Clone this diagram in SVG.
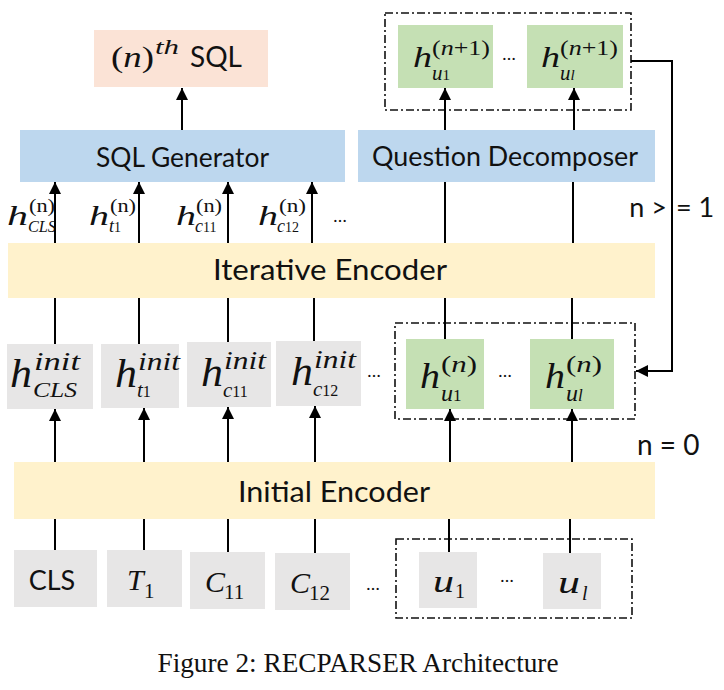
<svg xmlns="http://www.w3.org/2000/svg" width="724" height="690" viewBox="0 0 724 690">
<defs>
<marker id="ah" markerUnits="userSpaceOnUse" markerWidth="12" markerHeight="12" refX="12" refY="6" orient="auto"><path d="M0,0 L12,6 L0,12 z" fill="#000"/></marker>
<style>
.sans{font-family:Lato,"Liberation Sans",sans-serif;fill:#111}
.m{font-family:"Liberation Serif",serif;font-style:italic;fill:#111}
.r{font-family:"Liberation Serif",serif;font-style:normal;fill:#111}
.peach{fill:#fbe3d6}.blue{fill:#bdd7ee}.yel{fill:#fff2cc}.gray{fill:#e7e6e6}.green{fill:#c5e0b4}
.dash{fill:none;stroke:#111;stroke-width:1.6;stroke-dasharray:8 3 2 3}
.ln{stroke:#000;stroke-width:2;fill:none}
.ar{stroke:#000;stroke-width:2;fill:none;marker-end:url(#ah)}
</style>
</defs>
<rect width="724" height="690" fill="#fff"/>

<g id="sql-out"><rect class="peach" x="94" y="30" width="174" height="57"/>
<text class="m" x="111" y="67" font-size="30" textLength="43" lengthAdjust="spacingAndGlyphs"><tspan class="r">(</tspan>n<tspan class="r">)</tspan></text><text class="m" x="155" y="54" font-size="20" textLength="24" lengthAdjust="spacingAndGlyphs">th</text><text class="sans" x="190" y="67" font-size="28">SQL</text></g>

<g id="sql-gen"><rect class="blue" x="20" y="130" width="325" height="52"/><text class="sans" x="96" y="167" font-size="26" textLength="173" lengthAdjust="spacingAndGlyphs">SQL Generator</text></g>
<g id="q-dec"><rect class="blue" x="358" y="130" width="297" height="52"/><text class="sans" x="372" y="166" font-size="26" textLength="266" lengthAdjust="spacingAndGlyphs">Question Decomposer</text></g>

<g id="u-next"><rect class="dash" x="385" y="13" width="246" height="97"/>
<rect class="green" x="398" y="25" width="95" height="63"/><rect class="green" x="527" y="25" width="96" height="63"/>
<text class="m" x="413" y="67" font-size="30" textLength="19" lengthAdjust="spacingAndGlyphs">h</text>
<text class="r" x="432" y="55" font-size="20" textLength="58" lengthAdjust="spacingAndGlyphs">(<tspan class="m">n</tspan>+1)</text>
<text class="m" x="432" y="80" font-size="21">u<tspan class="r" font-size="15">1</tspan></text>
<text class="sans" x="509" y="60" font-size="18" text-anchor="middle">…</text>
<text class="m" x="541" y="67" font-size="30" textLength="19" lengthAdjust="spacingAndGlyphs">h</text>
<text class="r" x="560" y="55" font-size="20" textLength="58" lengthAdjust="spacingAndGlyphs">(<tspan class="m">n</tspan>+1)</text>
<text class="m" x="560" y="80" font-size="21">u<tspan font-size="15">l</tspan></text></g>

<g id="hn-labels">
<text class="m" x="7" y="225" font-size="28" textLength="21" lengthAdjust="spacingAndGlyphs">h</text><text class="r" x="29" y="212" font-size="19" textLength="26" lengthAdjust="spacingAndGlyphs">(n)</text><text class="m" x="28" y="232" font-size="17" textLength="28" lengthAdjust="spacingAndGlyphs">CLS</text>
<text class="m" x="89" y="225" font-size="28" textLength="20" lengthAdjust="spacingAndGlyphs">h</text><text class="r" x="110" y="212" font-size="19" textLength="26" lengthAdjust="spacingAndGlyphs">(n)</text><text class="m" x="109" y="232" font-size="18">t<tspan class="r" font-size="14">1</tspan></text>
<text class="m" x="176" y="225" font-size="28" textLength="20" lengthAdjust="spacingAndGlyphs">h</text><text class="r" x="196" y="212" font-size="19" textLength="26" lengthAdjust="spacingAndGlyphs">(n)</text><text class="m" x="195" y="232" font-size="18">c<tspan class="r" font-size="14">11</tspan></text>
<text class="m" x="258" y="225" font-size="28" textLength="20" lengthAdjust="spacingAndGlyphs">h</text><text class="r" x="279" y="212" font-size="19" textLength="27" lengthAdjust="spacingAndGlyphs">(n)</text><text class="m" x="277" y="232" font-size="18">c<tspan class="r" font-size="14">12</tspan></text>
<text class="sans" x="340" y="222" font-size="18" text-anchor="middle">…</text></g>

<g id="iter-enc"><rect class="yel" x="8" y="243" width="647" height="55"/><text class="sans" x="213" y="280" font-size="28" textLength="234" lengthAdjust="spacingAndGlyphs">Iterative Encoder</text></g>

<g id="init-h">
<rect class="gray" x="7" y="344" width="86" height="65"/><rect class="gray" x="101" y="344" width="78" height="64"/><rect class="gray" x="187" y="342" width="84" height="65"/><rect class="gray" x="276" y="341" width="85" height="65"/>
<text class="m" x="10" y="387" font-size="40" textLength="22" lengthAdjust="spacingAndGlyphs">h</text><text class="m" x="34" y="370" font-size="26" textLength="46" lengthAdjust="spacingAndGlyphs">init</text><text class="m" x="33" y="397" font-size="21" textLength="44" lengthAdjust="spacingAndGlyphs">CLS</text>
<text class="m" x="115" y="387" font-size="40" textLength="22" lengthAdjust="spacingAndGlyphs">h</text><text class="m" x="138" y="370" font-size="26" textLength="42" lengthAdjust="spacingAndGlyphs">init</text><text class="m" x="137" y="397" font-size="21">t<tspan class="r" font-size="16">1</tspan></text>
<text class="m" x="201" y="386" font-size="40" textLength="22" lengthAdjust="spacingAndGlyphs">h</text><text class="m" x="224" y="369" font-size="26" textLength="42" lengthAdjust="spacingAndGlyphs">init</text><text class="m" x="223" y="397" font-size="21">c<tspan class="r" font-size="16">11</tspan></text>
<text class="m" x="291" y="385" font-size="40" textLength="22" lengthAdjust="spacingAndGlyphs">h</text><text class="m" x="314" y="368" font-size="26" textLength="42" lengthAdjust="spacingAndGlyphs">init</text><text class="m" x="313" y="396" font-size="21">c<tspan class="r" font-size="16">12</tspan></text>
<text class="sans" x="374" y="377" font-size="18" text-anchor="middle">…</text></g>

<g id="u-cur"><rect class="dash" x="395" y="323" width="240" height="96"/>
<rect class="green" x="406" y="339" width="78" height="70"/><rect class="green" x="530" y="339" width="84" height="70"/>
<text class="m" x="420" y="388" font-size="36" textLength="20" lengthAdjust="spacingAndGlyphs">h</text><text class="r" x="441" y="372" font-size="24" textLength="36" lengthAdjust="spacingAndGlyphs">(<tspan class="m">n</tspan>)</text><text class="m" x="441" y="401" font-size="24">u<tspan class="r" font-size="17">1</tspan></text>
<text class="sans" x="505" y="377" font-size="18" text-anchor="middle">…</text>
<text class="m" x="545" y="388" font-size="36" textLength="20" lengthAdjust="spacingAndGlyphs">h</text><text class="r" x="566" y="372" font-size="24" textLength="36" lengthAdjust="spacingAndGlyphs">(<tspan class="m">n</tspan>)</text><text class="m" x="566" y="401" font-size="24">u<tspan font-size="17">l</tspan></text></g>

<g id="conds"><text class="sans" x="667" y="217" font-size="27" text-anchor="end">n &gt;</text><text class="sans" x="676" y="217" font-size="27">= 1</text><text class="sans" x="637" y="455" font-size="28">n = 0</text></g>

<g id="init-enc"><rect class="yel" x="14" y="462" width="641" height="57"/><text class="sans" x="238" y="502" font-size="28" textLength="192" lengthAdjust="spacingAndGlyphs">Initial Encoder</text></g>

<g id="inputs">
<rect class="gray" x="14" y="550" width="83" height="57"/><rect class="gray" x="107" y="550" width="75" height="57"/><rect class="gray" x="190" y="552" width="75" height="57"/><rect class="gray" x="275" y="553" width="75" height="57"/>
<text class="sans" x="52" y="590" font-size="27" text-anchor="middle">CLS</text>
<text class="m" x="127" y="590" font-size="30">T</text><text class="r" x="144" y="598" font-size="21">1</text>
<text class="m" x="205" y="592" font-size="30">C</text><text class="r" x="224" y="599" font-size="21">11</text>
<text class="m" x="290" y="593" font-size="30">C</text><text class="r" x="309" y="600" font-size="21">12</text>
<text class="sans" x="373" y="590" font-size="18" text-anchor="middle">…</text>
<rect class="dash" x="396" y="539" width="236" height="79"/>
<rect class="gray" x="419" y="552" width="58" height="56"/><rect class="gray" x="543" y="553" width="58" height="56"/>
<text class="m" x="433" y="592" font-size="32" textLength="21" lengthAdjust="spacingAndGlyphs">u</text><text class="r" x="455" y="598" font-size="20">1</text>
<text class="sans" x="507" y="582" font-size="18" text-anchor="middle">…</text>
<text class="m" x="558" y="593" font-size="32" textLength="22" lengthAdjust="spacingAndGlyphs">u</text><text class="m" x="582" y="600" font-size="20">l</text></g>

<g id="connectors">
<line class="ar" x1="182" y1="130" x2="182" y2="88"/>
<line class="ar" x1="55" y1="243" x2="55" y2="182"/><line class="ar" x1="139" y1="243" x2="139" y2="182"/><line class="ar" x1="228" y1="243" x2="228" y2="182"/><line class="ar" x1="312" y1="243" x2="312" y2="182"/>
<line class="ar" x1="445" y1="130" x2="445" y2="88"/><line class="ar" x1="574" y1="130" x2="574" y2="88"/>
<line class="ln" x1="445" y1="243" x2="445" y2="182"/><line class="ln" x1="573" y1="243" x2="573" y2="182"/>
<line class="ln" x1="55" y1="344" x2="55" y2="298"/><line class="ln" x1="139" y1="344" x2="139" y2="298"/><line class="ln" x1="228" y1="342" x2="228" y2="298"/><line class="ln" x1="314" y1="341" x2="314" y2="298"/>
<line class="ln" x1="445" y1="339" x2="445" y2="298"/><line class="ln" x1="572" y1="339" x2="572" y2="298"/>
<line class="ar" x1="55" y1="462" x2="55" y2="409"/><line class="ar" x1="144" y1="462" x2="144" y2="408"/><line class="ar" x1="228" y1="462" x2="228" y2="407"/><line class="ar" x1="315" y1="462" x2="315" y2="406"/>
<line class="ar" x1="450" y1="462" x2="450" y2="409"/><line class="ar" x1="572" y1="462" x2="572" y2="409"/>
<line class="ln" x1="55" y1="519" x2="55" y2="550"/><line class="ln" x1="144" y1="519" x2="144" y2="550"/><line class="ln" x1="228" y1="519" x2="228" y2="552"/><line class="ln" x1="315" y1="519" x2="315" y2="553"/>
<line class="ln" x1="449" y1="519" x2="449" y2="552"/><line class="ln" x1="570" y1="519" x2="570" y2="553"/>
<polyline class="ar" points="631,61 672,61 672,371 636,371"/>
</g>

<text x="358" y="672" font-family="'Liberation Serif',serif" font-size="27" text-anchor="middle" fill="#111" textLength="401" lengthAdjust="spacingAndGlyphs">Figure 2: RECPARSER Architecture</text>
</svg>
